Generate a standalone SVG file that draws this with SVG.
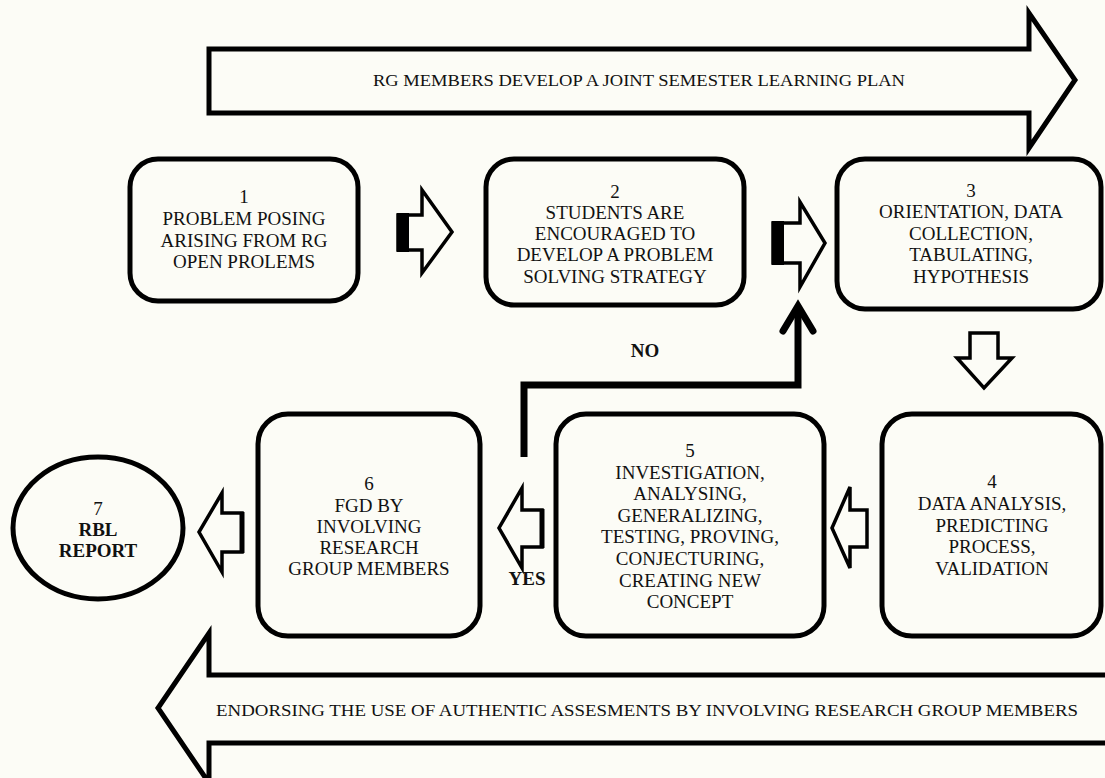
<svg xmlns="http://www.w3.org/2000/svg" width="1105" height="778" viewBox="0 0 1105 778">
<style>
.bg{fill:#fcfcf6}
.box{fill:#fcfcf6;stroke:#000;stroke-width:5}
.band{fill:#fcfcf6;stroke:#000;stroke-width:5;stroke-linejoin:miter}
.blk{fill:#fcfcf6;stroke:#000;stroke-width:3.5;stroke-linejoin:miter}
.t{font-family:"Liberation Serif","Times New Roman",serif;font-size:19px;fill:#111;text-anchor:middle}
.b{font-weight:bold}
.band-t{font-family:"Liberation Serif","Times New Roman",serif;font-size:17.5px;fill:#111;text-anchor:middle}
.conn{fill:none;stroke:#000;stroke-width:7}
</style>
<rect class="bg" x="0" y="0" width="1105" height="778"/>

<g id="top-band">
<polygon class="band" points="209,49 1029,49 1029,13 1075,80 1029,148 1029,113 209,113"/>
<text class="band-t" x="639" y="86" textLength="532" lengthAdjust="spacingAndGlyphs">RG MEMBERS DEVELOP A JOINT SEMESTER LEARNING PLAN</text>
</g>

<g id="bottom-band">
<path class="band" d="M1110,675 L209,675 L209,633 L158,708 L209,783 L209,743 L1110,743"/>
<text class="band-t" x="647" y="716" textLength="862" lengthAdjust="spacingAndGlyphs">ENDORSING THE USE OF AUTHENTIC ASSESMENTS BY INVOLVING RESEARCH GROUP MEMBERS</text>
</g>

<g id="node1">
<rect class="box" x="130" y="159" width="228" height="142" rx="28"/>
<text class="t" x="244" y="203">1</text>
<text class="t" x="244" y="225">PROBLEM POSING</text>
<text class="t" x="244" y="247">ARISING FROM RG</text>
<text class="t" x="244" y="268">OPEN PROLEMS</text>
</g>

<g id="node2">
<rect class="box" x="486" y="159" width="258" height="146" rx="28"/>
<text class="t" x="615" y="198">2</text>
<text class="t" x="615" y="219">STUDENTS ARE</text>
<text class="t" x="615" y="240">ENCOURAGED TO</text>
<text class="t" x="615" y="261">DEVELOP A PROBLEM</text>
<text class="t" x="615" y="283">SOLVING STRATEGY</text>
</g>

<g id="node3">
<rect class="box" x="837" y="159" width="264" height="150" rx="28"/>
<text class="t" x="971" y="197">3</text>
<text class="t" x="971" y="218">ORIENTATION, DATA</text>
<text class="t" x="971" y="240">COLLECTION,</text>
<text class="t" x="971" y="261">TABULATING,</text>
<text class="t" x="971" y="283">HYPOTHESIS</text>
</g>

<g id="node4">
<rect class="box" x="882" y="414" width="219" height="222" rx="30"/>
<text class="t" x="992" y="488">4</text>
<text class="t" x="992" y="510">DATA ANALYSIS,</text>
<text class="t" x="992" y="532">PREDICTING</text>
<text class="t" x="992" y="553">PROCESS,</text>
<text class="t" x="992" y="575">VALIDATION</text>
</g>

<g id="node5">
<rect class="box" x="556" y="414" width="268" height="222" rx="30"/>
<text class="t" x="690" y="457">5</text>
<text class="t" x="690" y="479">INVESTIGATION,</text>
<text class="t" x="690" y="500">ANALYSING,</text>
<text class="t" x="690" y="522">GENERALIZING,</text>
<text class="t" x="690" y="543">TESTING, PROVING,</text>
<text class="t" x="690" y="565">CONJECTURING,</text>
<text class="t" x="690" y="587">CREATING NEW</text>
<text class="t" x="690" y="608">CONCEPT</text>
</g>

<g id="node6">
<rect class="box" x="258" y="414" width="222" height="222" rx="30"/>
<text class="t" x="369" y="490">6</text>
<text class="t" x="369" y="512">FGD BY</text>
<text class="t" x="369" y="533">INVOLVING</text>
<text class="t" x="369" y="554">RESEARCH</text>
<text class="t" x="369" y="575">GROUP MEMBERS</text>
</g>

<g id="node7">
<ellipse class="box" cx="98" cy="528" rx="85" ry="71"/>
<text class="t" x="98" y="515">7</text>
<text class="t b" x="98" y="536">RBL</text>
<text class="t b" x="98" y="557">REPORT</text>
</g>

<g id="connectors">
<g id="a1-2">
<polygon class="blk" points="398,215 422,215 422,190 452,232 422,273 422,250 398,250"/>
<rect x="397" y="213" width="12" height="39" fill="#000"/>
</g>
<g id="a2-3">
<polygon class="blk" points="773,223 800,223 800,202 825,243 800,287 800,263 773,263"/>
<rect x="772" y="221" width="12" height="44" fill="#000"/>
</g>
<polygon id="a3-4" class="blk" points="970,333 998,333 998,358 1012,358 984,388 957,358 970,358"/>
<g id="a4-5">
<polygon class="blk" points="867,510 850,510 850,487 832,528 850,568 850,547 867,547"/>
</g>
<g id="a5-6">
<polygon class="blk" points="542,510 522,510 522,488 499,528 522,568 522,547 542,547"/>
<line x1="542" y1="509" x2="542" y2="548" stroke="#000" stroke-width="5"/>
</g>
<g id="a6-7">
<polygon class="blk" points="242,513 222,513 222,493 199,532 222,572 222,552 242,552"/>
<line x1="242" y1="512" x2="242" y2="553" stroke="#000" stroke-width="5"/>
</g>
<g id="no-loop">
<polyline class="conn" points="524,457 524,385 798,385 798,308"/>
<polyline fill="none" stroke="#000" stroke-width="7" stroke-linecap="round" stroke-linejoin="miter" points="783,331 798,306 813,331"/>
</g>
<text class="t b" x="645" y="357">NO</text>
<text class="t b" x="527" y="585">YES</text>
</g>
</svg>
